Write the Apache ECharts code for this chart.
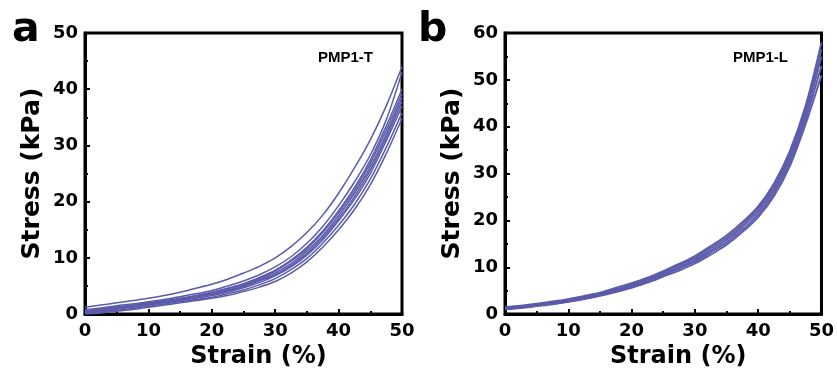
<!DOCTYPE html>
<html>
<head>
<meta charset="utf-8">
<script src="https://cdn.jsdelivr.net/npm/echarts@6/dist/echarts.min.js"></script>
<style>
  html, body { margin: 0; padding: 0; background: #fff; }
  #main { width: 837px; height: 374px; }
</style>
</head>
<body>
<div id="main"></div>
<script>
// strain (%) sample points shared by every cycle
const strain = [0, 2.5, 5, 7.5, 10, 12.5, 15, 17.5, 20, 22.5, 25, 27.5, 30, 32.5, 35, 37.5, 40, 42.5, 45, 47.5, 50]

// panel a : PMP1-T, stress (kPa) per cycle
const tCycle1 = [1.2, 1.6, 2.0, 2.4, 2.8, 3.3, 3.9, 4.6, 5.3, 6.2, 7.3, 8.5, 10.0, 12.0, 14.5, 17.6, 21.5, 26.0, 31.0, 37.0, 44.0]
const tCycle2 = [0.8, 1.1, 1.5, 1.8, 2.2, 2.6, 3.1, 3.6, 4.2, 5.0, 5.9, 7.0, 8.4, 10.2, 12.6, 15.6, 19.3, 23.5, 28.3, 34.5, 43.0]
const tCycle3 = [0.6, 0.9, 1.3, 1.6, 2.0, 2.4, 2.8, 3.3, 3.9, 4.6, 5.4, 6.5, 7.8, 9.6, 11.9, 14.8, 18.4, 22.5, 27.4, 33.4, 40.0]
const tCycle4 = [0.5, 0.8, 1.2, 1.5, 1.9, 2.3, 2.7, 3.2, 3.8, 4.5, 5.3, 6.3, 7.6, 9.4, 11.6, 14.5, 18.0, 22.0, 26.8, 32.7, 39.2]
const tCycle5 = [0.4, 0.7, 1.1, 1.4, 1.8, 2.2, 2.6, 3.1, 3.6, 4.3, 5.1, 6.1, 7.3, 9.0, 11.2, 14.0, 17.5, 21.5, 26.2, 32.0, 38.5]
const tCycle6 = [0.3, 0.6, 1.0, 1.3, 1.7, 2.1, 2.5, 3.0, 3.5, 4.1, 4.9, 5.9, 7.0, 8.7, 10.8, 13.6, 17.0, 20.9, 25.6, 31.4, 37.8]
const tCycle7 = [0.2, 0.5, 0.9, 1.2, 1.6, 2.0, 2.4, 2.8, 3.3, 3.9, 4.7, 5.6, 6.8, 8.4, 10.5, 13.2, 16.6, 20.4, 25.0, 30.8, 37.0]
const tCycle8 = [0.1, 0.4, 0.7, 1.0, 1.4, 1.8, 2.2, 2.6, 3.0, 3.6, 4.3, 5.2, 6.3, 7.9, 9.9, 12.6, 15.8, 19.5, 24.0, 29.6, 35.8]
const tCycle9 = [0.0, 0.2, 0.5, 0.8, 1.2, 1.6, 2.0, 2.4, 2.8, 3.3, 4.0, 4.8, 5.8, 7.3, 9.3, 11.9, 15.0, 18.6, 23.0, 28.5, 34.8]

// panel b : PMP1-L
const lCycle1 = [1.5, 1.8, 2.2, 2.7, 3.2, 3.9, 4.6, 5.6, 6.6, 7.8, 9.2, 10.7, 12.4, 14.5, 16.8, 19.6, 23.0, 27.9, 34.8, 44.5, 58.0]
const lCycle2 = [1.3, 1.6, 2.0, 2.5, 3.0, 3.7, 4.4, 5.3, 6.3, 7.5, 8.9, 10.4, 12.0, 14.1, 16.3, 19.1, 22.5, 27.3, 34.0, 43.6, 56.5]
const lCycle3 = [1.2, 1.5, 1.9, 2.4, 2.9, 3.5, 4.2, 5.1, 6.1, 7.3, 8.6, 10.0, 11.6, 13.6, 15.8, 18.6, 21.9, 26.6, 33.2, 42.6, 55.0]
const lCycle4 = [1.1, 1.4, 1.8, 2.2, 2.7, 3.3, 4.0, 4.9, 5.8, 7.0, 8.3, 9.7, 11.2, 13.2, 15.3, 18.0, 21.3, 25.9, 32.4, 41.6, 53.0]
const lCycle5 = [1.0, 1.3, 1.7, 2.1, 2.6, 3.2, 3.9, 4.7, 5.6, 6.7, 8.0, 9.3, 10.8, 12.7, 14.8, 17.5, 20.7, 25.2, 31.6, 40.6, 51.0]

const tCycles = [tCycle1, tCycle2, tCycle3, tCycle4, tCycle5, tCycle6, tCycle7, tCycle8, tCycle9]
const lCycles = [lCycle1, lCycle2, lCycle3, lCycle4, lCycle5]

const panelLetters = ['a', 'b']
const sampleNames = ['PMP1-T', 'PMP1-L']
const xName = 'Strain (%)'
const yName = 'Stress (kPa)'
const yMax = [50, 60]

const lineColor = '#5b5bab'
const labelFont = 'DejaVu Sans'

function makeSeries(cycles, idx, width) {
    return cycles.map(c => ({
        type: 'line',
        xAxisIndex: idx,
        yAxisIndex: idx,
        data: strain.map((s, i) => [s, c[i]]),
        smooth: 0.3,
        showSymbol: false,
        clip: true,
        lineStyle: { color: lineColor, width: width },
        silent: true
    }))
}

const grids = [
    { left: 85, top: 33, width: 317, height: 282 },
    { left: 505, top: 33, width: 317, height: 282 }
].map(g => Object.assign(g, { show: true, borderColor: '#000', borderWidth: 3, backgroundColor: '#fff' }))

const xAxes = [0, 1].map(i => ({
    type: 'value',
    gridIndex: i,
    min: 0,
    max: 50,
    interval: 10,
    name: xName,
    nameLocation: 'middle',
    nameGap: 27,
    nameTextStyle: { fontFamily: labelFont, fontWeight: 'bold', fontSize: 24, color: '#000', padding: [0, 0, 0, 30] },
    axisLine: { show: true, lineStyle: { color: '#000', width: 3 } },
    axisTick: { show: true, inside: true, length: 5, lineStyle: { color: '#000', width: 2 } },
    minorTick: { show: true, splitNumber: 2, length: 3, lineStyle: { color: '#000', width: 2 } },
    axisLabel: { margin: 8, fontFamily: labelFont, fontWeight: 'bold', fontSize: 18, color: '#000' },
    splitLine: { show: false }
}))

const yAxes = [0, 1].map(i => ({
    type: 'value',
    gridIndex: i,
    min: 0,
    max: yMax[i],
    interval: 10,
    name: yName,
    nameLocation: 'middle',
    nameGap: 40,
    nameTextStyle: { fontFamily: labelFont, fontWeight: 'bold', fontSize: 25, color: '#000' },
    axisLine: { show: true, lineStyle: { color: '#000', width: 3 } },
    axisTick: { show: true, inside: true, length: 5, lineStyle: { color: '#000', width: 2 } },
    minorTick: { show: true, splitNumber: 2, length: 3, lineStyle: { color: '#000', width: 2 } },
    axisLabel: { margin: 7, fontFamily: labelFont, fontWeight: 'bold', fontSize: 18, color: '#000' },
    splitLine: { show: false }
}))

const graphic = [
    { type: 'text', left: 12, top: 10, z: 10, style: { text: panelLetters[0], font: 'bold 41px "DejaVu Sans"', fill: '#000' } },
    { type: 'text', left: 418, top: 10, z: 10, style: { text: panelLetters[1], font: 'bold 41px "DejaVu Sans"', fill: '#000' } },
    { type: 'text', left: 318, top: 50, z: 10, style: { text: sampleNames[0], font: 'bold 15px "Liberation Sans"', fill: '#000' } },
    { type: 'text', left: 733, top: 50, z: 10, style: { text: sampleNames[1], font: 'bold 15px "Liberation Sans"', fill: '#000' } }
]

const option = {
    animation: false,
    backgroundColor: '#fff',
    grid: grids,
    xAxis: xAxes,
    yAxis: yAxes,
    series: makeSeries(tCycles, 0, 1.5).concat(makeSeries(lCycles, 1, 1.9)),
    graphic: graphic
}

var myChart = echarts.init(document.getElementById('main'))
myChart.setOption(option)
</script>
</body>
</html>
